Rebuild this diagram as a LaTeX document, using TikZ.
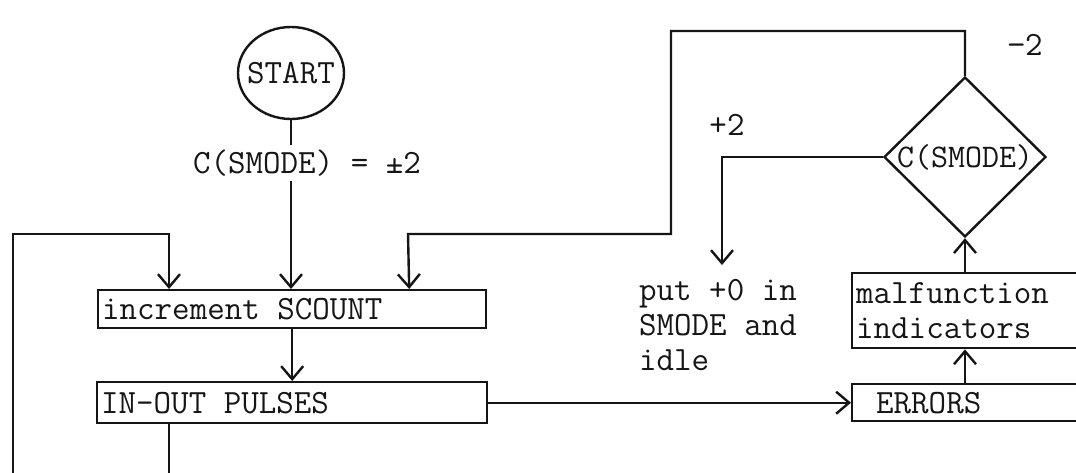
\documentclass[tikz,border=0pt]{standalone}
\usepackage{fontspec}
\usetikzlibrary{arrows.meta, shapes.geometric}
\definecolor{cink}{HTML}{151515}
\tikzset{
  every picture/.style={font=\ttfamily\fontsize{34}{35}\selectfont, line width=2.4pt, color=cink},
  box/.style={draw=cink, rectangle, anchor=north west, align=flush left, inner xsep=4pt, inner ysep=0pt},
  arrow/.style={-{Straight Barb[length=13pt, width=22pt]}, draw=cink},
  note/.style={align=flush left, inner sep=0pt, text=cink},
}

\begin{document}
\begin{tikzpicture}[x=1pt, y=-1pt,
  terminal/.style={ellipse, draw=cink, inner sep=0pt, inner xsep=-12pt, minimum width=106pt, minimum height=92pt},
  decide/.style={diamond, draw=cink, aspect=1, inner sep=0pt, inner xsep=-4pt, minimum width=162pt, minimum height=160pt, font=\ttfamily\fontsize{33}{35}\selectfont}]
  \useasboundingbox (0,0) rectangle (1076,473);
  \clip (0,0) rectangle (1076,473);
  % main column
  \node[terminal] (start) at (291,73) {START};
  \node (cond) at (307,163) {C(SMODE) = ±2};
  \node[box, text width=380pt, minimum height=38pt] (scount) at (97,289) {increment SCOUNT};
  \node[box, text width=382pt, minimum height=41pt] (inout) at (96,381) {IN-OUT PULSES};
  % error branch
  \node[box, text width=300pt, minimum height=37pt] (errors) at (851,383) {\hspace*{20pt}ERRORS};
  \node[box, text width=300pt, minimum height=75pt] (malf) at (851,272) {malfunction\\indicators};
  \node[decide] (smode) at (965,157) {C(SMODE)};
  \node[note, anchor=west] (idle) at (638,325) {put +0 in\\SMODE and\\idle};
  \node (plus) at (727,125) {+2};
  \node (minus) at (1025,45) {−2};
  \coordinate (idlein) at (722,265);
  \coordinate (loopin) at (13,490);
  \coordinate (loopout) at (169,490);

  \draw (start) -- (start |- cond.north);
  \draw[arrow] (start |- cond.south) -- (scount.north -| start);
  \draw[arrow] (scount) -- (inout);
  \draw[arrow] (loopin) |- (169,234) -- (scount.north -| loopout);
  \draw (inout.south -| loopout) -- (loopout);
  \draw[arrow] (inout) -- (errors);
  \draw[arrow] (errors.north -| smode) -- (malf.south -| smode);
  \draw[arrow] (malf.north -| smode) -- (smode);
  \draw[arrow] (smode.west) -| (idlein);
  \draw[arrow] (smode.north) |- (671,31) |- (408,234) -- ([xshift=117pt]scount.north);
\end{tikzpicture}
\end{document}
